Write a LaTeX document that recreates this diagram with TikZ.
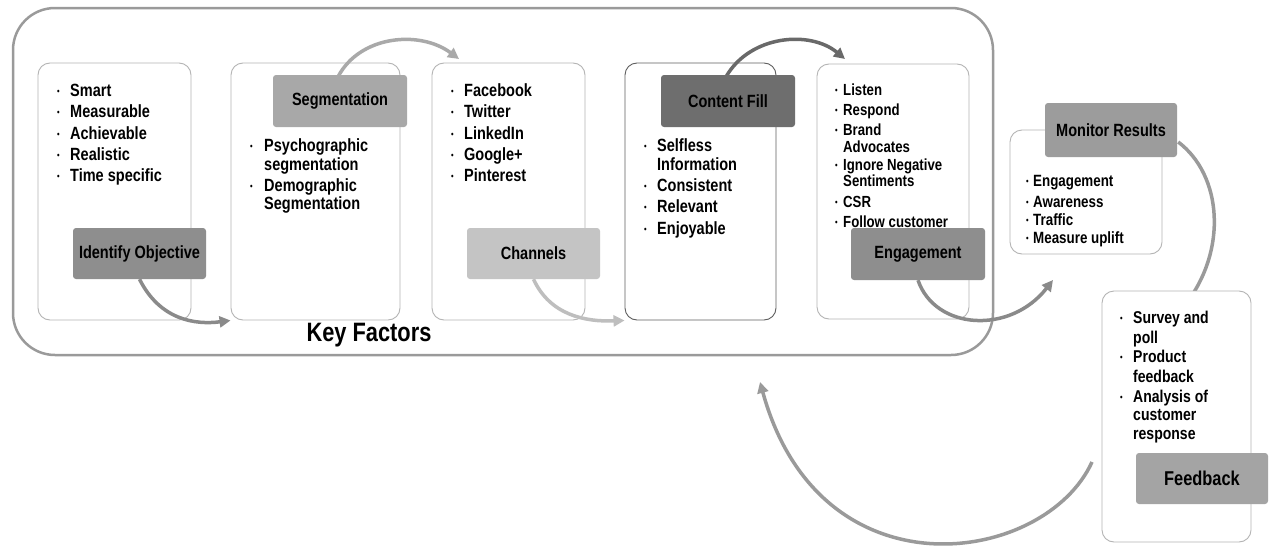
\documentclass[tikz,border=0pt]{standalone}
\usepackage{fontspec}
\setmainfont{Liberation Sans}[FakeStretch=0.82]
\usetikzlibrary{arrows.meta,calc}
\definecolor{panelc}{HTML}{B4B4B4}
\definecolor{panelk}{HTML}{5E5E5E}
\definecolor{outerc}{HTML}{9A9A9A}
\definecolor{tagA}{HTML}{8E8E8E}
\definecolor{tagB}{HTML}{A8A8A8}
\definecolor{tagC}{HTML}{C4C4C4}
\definecolor{tagD}{HTML}{6E6E6E}
\definecolor{tagE}{HTML}{9C9C9C}
\definecolor{tagF}{HTML}{A4A4A4}
\definecolor{arA}{HTML}{8A8A8A}
\definecolor{arB}{HTML}{A9A9A9}
\definecolor{arC}{HTML}{BEBEBE}
\definecolor{arD}{HTML}{696969}
\definecolor{arE}{HTML}{9A9A9A}
\pgfdeclarelayer{panels}
\pgfdeclarelayer{fbpanel}
\pgfdeclarelayer{tags}
\pgfsetlayers{panels,main,fbpanel,tags}
\newcommand\bul[1]{\makebox[#1][l]{\raisebox{2pt}{\fontsize{9}{9}\selectfont\textbullet}}}
\begin{document}
\begin{tikzpicture}[x=1pt,y=-1pt,
  panel/.style={draw=panelc, line width=0.9pt, fill=white, rounded corners=12pt, inner sep=0pt},
  tag/.style={rounded corners=3pt, inner sep=0pt, text=black,
    font=\fontsize{17.7}{20}\selectfont\bfseries, minimum width=133pt, minimum height=51pt},
  lst/.style={anchor=base west, inner sep=0pt, text=black},
  flow/.style={line width=3.5pt, -{Triangle[length=11pt,width=11pt]}},
  flowplain/.style={line width=3.5pt}
]
\useasboundingbox (0,0) rectangle (1275,546);

\begin{pgfonlayer}{panels}
\fill[white] (0,0) rectangle (1275,546);
% outer frame
\draw[outerc, line width=2.5pt, rounded corners=42pt] (13,8) rectangle (993,355);
% white panels
\node[panel, minimum width=153pt, minimum height=257pt] (b1) at (114.5,191.5) {};
\node[panel, minimum width=169pt, minimum height=257pt] (b2) at (315.5,191.5) {};
\node[panel, minimum width=153pt, minimum height=257pt] (b3) at (508.5,191.5) {};
\node[panel, draw=panelk, minimum width=151pt, minimum height=257pt] (b4) at (700.5,191.5) {};
\node[panel, minimum width=152pt, minimum height=255pt] (b5) at (893,191.5) {};
\node[panel, minimum width=152pt, minimum height=124pt] (b6) at (1086,192) {};

% text lists
\node[lst] (l1) at (57,96.5) {\fontsize{17.7}{21.3}\selectfont\bfseries
  \begin{tabular}[t]{@{}l@{}}
  \bul{13pt}Smart\\
  \bul{13pt}Measurable\\
  \bul{13pt}Achievable\\
  \bul{13pt}Realistic\\
  \bul{13pt}Time specific
  \end{tabular}};
\node[lst] (l2) at (250,151.5) {\fontsize{17.7}{21}\selectfont\bfseries
  \begin{tabular}[t]{@{}l@{}}
  \bul{14pt}Psychographic\\[-2pt]
  \hspace*{14pt}segmentation\\
  \bul{14pt}Demographic\\[-3pt]
  \hspace*{14pt}Segmentation
  \end{tabular}};
\node[lst] (l3) at (451,96.5) {\fontsize{17.7}{21.3}\selectfont\bfseries
  \begin{tabular}[t]{@{}l@{}}
  \bul{13pt}Facebook\\
  \bul{13pt}Twitter\\
  \bul{13pt}LinkedIn\\
  \bul{13pt}Google+\\
  \bul{13pt}Pinterest
  \end{tabular}};
\node[lst] (l4) at (644,151.5) {\fontsize{17.7}{21}\selectfont\bfseries
  \begin{tabular}[t]{@{}l@{}}
  \bul{13pt}Selfless\\[-2pt]
  \hspace*{13pt}Information\\
  \bul{13pt}Consistent\\
  \bul{13pt}Relevant\\[1pt]
  \bul{13pt}Enjoyable
  \end{tabular}};
\node[lst] (l5) at (835,95.5) {\fontsize{16.1}{20}\selectfont\bfseries
  \begin{tabular}[t]{@{}l@{}}
  \bul{8pt}Listen\\
  \bul{8pt}Respond\\
  \bul{8pt}Brand\\[-3pt]
  \hspace*{8pt}Advocates\\[-2pt]
  \bul{8pt}Ignore Negative\\[-4pt]
  \hspace*{8pt}Sentiments\\[1pt]
  \bul{8pt}CSR\\
  \bul{8pt}Follow customer
  \end{tabular}};
\node[lst] (l6) at (1026,186.5) {\fontsize{16.3}{19}\selectfont\bfseries
  \begin{tabular}[t]{@{}l@{}}
  \bul{7pt}Engagement\\[2pt]
  \bul{7pt}Awareness\\[-1pt]
  \bul{7pt}Traffic\\[-1pt]
  \bul{7pt}Measure uplift
  \end{tabular}};
% Key Factors
\node[inner sep=0pt, font=\fontsize{26.6}{28}\selectfont\bfseries] (kf) at (369,335) {Key Factors};
\end{pgfonlayer}

% feedback panel (above the connectors)
\begin{pgfonlayer}{fbpanel}
\node[panel, minimum width=149pt, minimum height=251pt] (b7) at (1176.5,416.5) {};
\node[lst] (l7) at (1120,323.5) {\fontsize{17.1}{19.7}\selectfont\bfseries
  \begin{tabular}[t]{@{}l@{}}
  \bul{13pt}Survey and\\
  \hspace*{13pt}poll\\
  \bul{13pt}Product\\
  \hspace*{13pt}feedback\\
  \bul{13pt}Analysis of\\[-2pt]
  \hspace*{13pt}customer\\
  \hspace*{13pt}response
  \end{tabular}};
\end{pgfonlayer}

% tags (top layer)
\begin{pgfonlayer}{tags}
\node[tag, fill=tagA] (io) at (139.5,253.5) {Identify Objective};
\node[tag, fill=tagB, minimum width=134pt, minimum height=52pt] (seg) at (340,101) {Segmentation};
\node[tag, fill=tagC] (ch) at (533.5,253.5) {Channels};
\node[tag, fill=tagD, minimum width=134pt, minimum height=52pt] (cf) at (728,101) {Content Fill};
\node[tag, fill=tagA, minimum width=134pt, minimum height=52pt] (eng) at (918,254) {Engagement};
\node[tag, fill=tagE, minimum width=132pt, minimum height=54pt] (mr) at (1111,130) {Monitor Results};
\node[tag, fill=tagF, minimum width=132pt, font=\fontsize{20}{22}\selectfont\bfseries] (fbl) at (1202,478.5) {Feedback};
\end{pgfonlayer}

% named free ends
\coordinate (a2end) at (459,59);
\coordinate (a4end) at (845,59);
\coordinate (a5end) at (1053,280);
\coordinate (a6end) at (1185,305);
\coordinate (a7start) at (1092,462);
\coordinate (a7end) at (760,382);

% connectors
\draw[flow, arA] (io.south) .. controls (160,320) and (195,325) .. (b2.south west);
\draw[flow, arB] ($(seg.north)+(-2,2)$) .. controls (360,35) and (420,30) .. (a2end);
\draw[flow, arC] (ch.south) .. controls (550,315) and (585,322) .. (b4.south west);
\draw[flow, arD] ($(cf.north)+(-2,2)$) .. controls (750,35) and (810,30) .. (a4end);
\draw[flow, arA] (eng.south) .. controls (935,330) and (1010,335) .. (a5end);
\draw[flowplain, arE] ($(mr.east)+(1,12)$) .. controls (1222,175) and (1228,250) .. (a6end);
\draw[flow, arE] (a7start) .. controls (1045,565) and (820,600) .. (a7end);
\end{tikzpicture}
\end{document}
